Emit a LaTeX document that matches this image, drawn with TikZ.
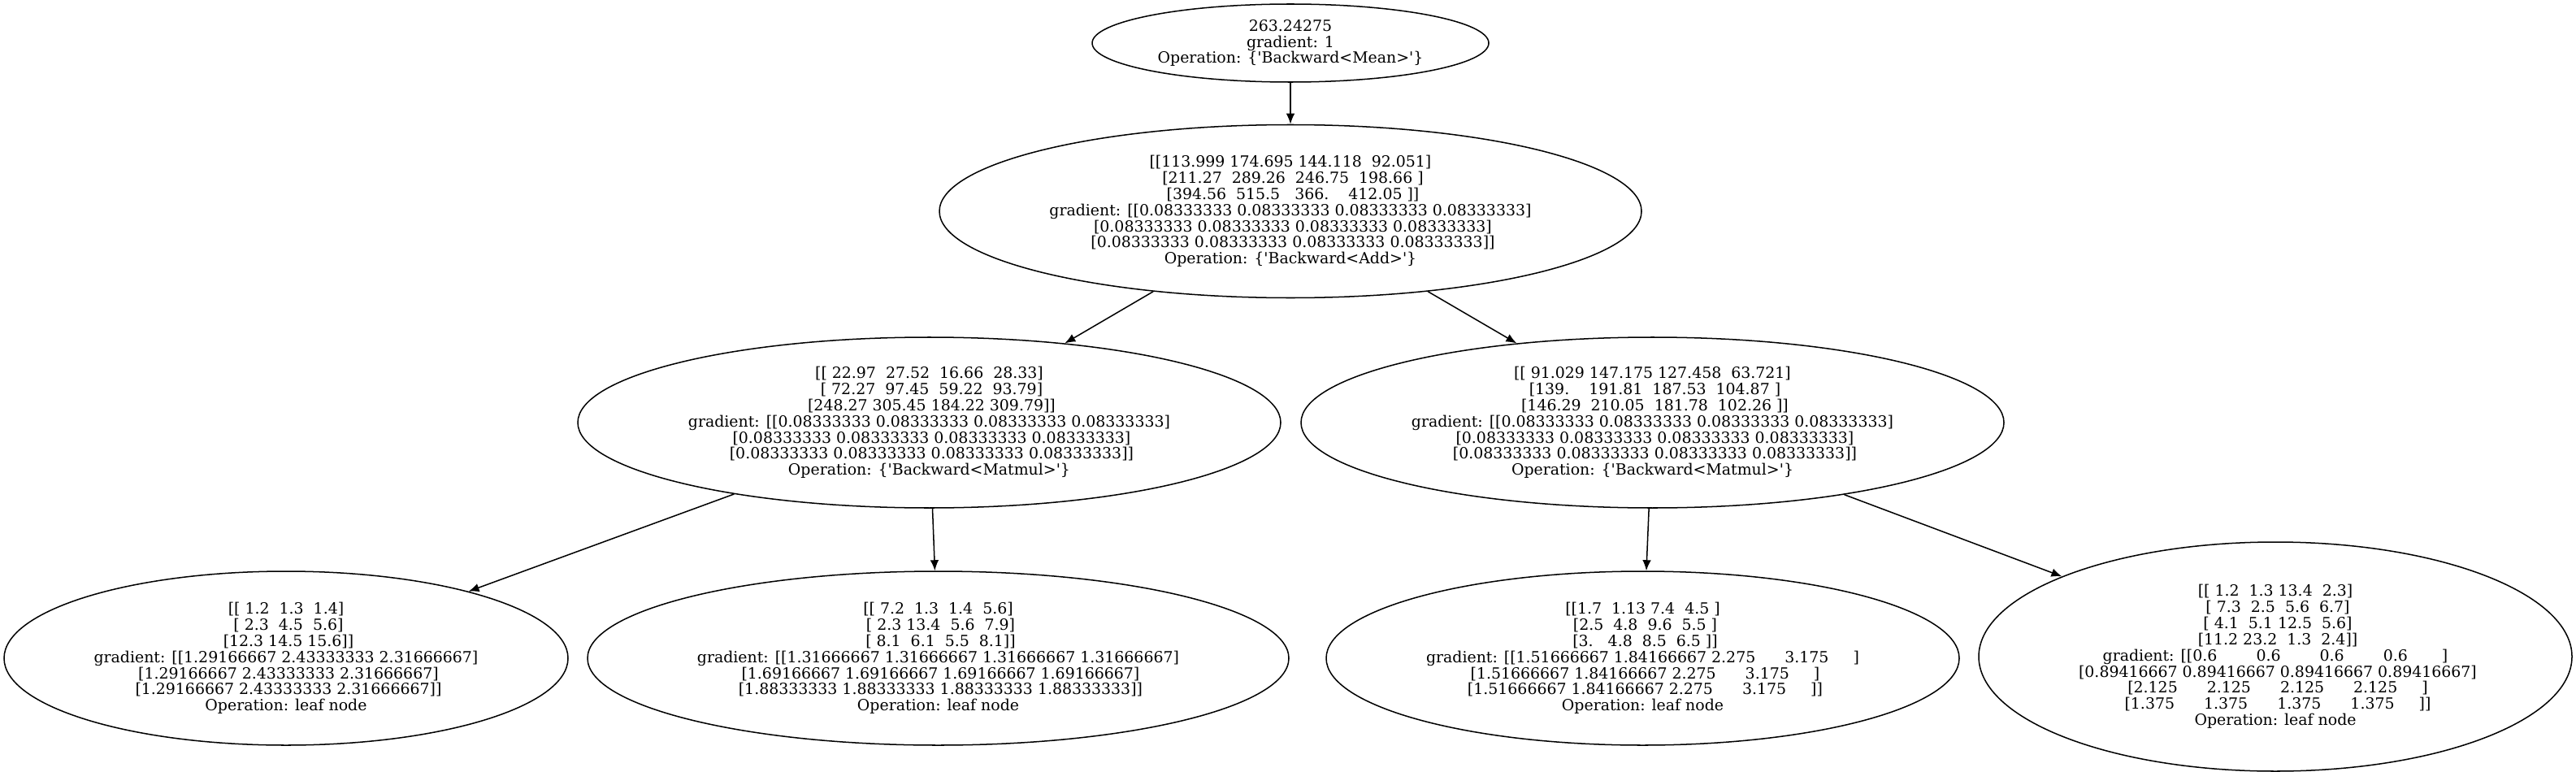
\documentclass[tikz,border=0pt]{standalone}
\usepackage{fontspec}
\setmainfont{DejaVu Serif}
\usepackage{tikz}
\usetikzlibrary{shapes, arrows.meta}
\tikzset{>={Latex[length=3.7pt,width=3pt]}}
\tikzset{
	tensor/.style={draw, ellipse, inner sep=0pt, align=center,
		line width=0.43pt, font=\fontsize{5.38}{5.65}\selectfont},
	grad/.style={->, line width=0.43pt}
}
\newcommand{\bwop}[1]{Operation: \{\textquotesingle Backward<#1>\textquotesingle\}}

\begin{document}
\begin{tikzpicture}
\useasboundingbox (0,0) rectangle (31.70,-9.50);
% forward result and add node
	\node[tensor, minimum width=4.88cm, minimum height=0.96cm] (mean) at (15.88,-0.53)
		{263.24275\\gradient: 1\\\bwop{Mean}};
	\node[tensor, minimum width=8.64cm, minimum height=2.13cm] (add) at (15.88,-2.60)
		{[[113.999 174.695 144.118~~92.051]\\
		~[211.27~~289.26~~246.75~~198.66~]\\
		~[394.56~~515.5~~~366.~~~~412.05~]]\\
		gradient: [[0.08333333 0.08333333 0.08333333 0.08333333]\\
		~[0.08333333 0.08333333 0.08333333 0.08333333]\\
		~[0.08333333 0.08333333 0.08333333 0.08333333]]\\
		\bwop{Add}};
% matmul nodes
	\node[tensor, minimum width=8.65cm, minimum height=2.10cm] (matL) at (11.435,-5.20)
		{[[~22.97~~27.52~~16.66~~28.33]\\
		~[~72.27~~97.45~~59.22~~93.79]\\
		~[248.27 305.45 184.22 309.79]]\\
		gradient: [[0.08333333 0.08333333 0.08333333 0.08333333]\\
		~[0.08333333 0.08333333 0.08333333 0.08333333]\\
		~[0.08333333 0.08333333 0.08333333 0.08333333]]\\
		\bwop{Matmul}};
	\node[tensor, minimum width=8.65cm, minimum height=2.10cm] (matR) at (20.335,-5.20)
		{[[~91.029 147.175 127.458~~63.721]\\
		~[139.~~~~191.81~~187.53~~104.87~]\\
		~[146.29~~210.05~~181.78~~102.26~]]\\
		gradient: [[0.08333333 0.08333333 0.08333333 0.08333333]\\
		~[0.08333333 0.08333333 0.08333333 0.08333333]\\
		~[0.08333333 0.08333333 0.08333333 0.08333333]]\\
		\bwop{Matmul}};
% leaf nodes
	\node[tensor, minimum width=6.94cm, minimum height=2.14cm] (leafA) at (3.52,-8.10)
		{[[~1.2~~1.3~~1.4]\\
		~[~2.3~~4.5~~5.6]\\
		~[12.3 14.5 15.6]]\\
		gradient: [[1.29166667 2.43333333 2.31666667]\\
		~[1.29166667 2.43333333 2.31666667]\\
		~[1.29166667 2.43333333 2.31666667]]\\
		Operation: leaf node};
	\node[tensor, minimum width=8.63cm, minimum height=2.14cm] (leafB) at (11.545,-8.10)
		{[[~7.2~~1.3~~1.4~~5.6]\\
		~[~2.3 13.4~~5.6~~7.9]\\
		~[~8.1~~6.1~~5.5~~8.1]]\\
		gradient: [[1.31666667 1.31666667 1.31666667 1.31666667]\\
		~[1.69166667 1.69166667 1.69166667 1.69166667]\\
		~[1.88333333 1.88333333 1.88333333 1.88333333]]\\
		Operation: leaf node};
	\node[tensor, minimum width=7.79cm, minimum height=2.14cm] (leafC) at (20.215,-8.10)
		{[[1.7~~1.13 7.4~~4.5~]\\
		~[2.5~~4.8~~9.6~~5.5~]\\
		~[3.~~~4.8~~8.5~~6.5~]]\\
		gradient: [[1.51666667 1.84166667 2.275~~~~~~3.175~~~~~]\\
		~[1.51666667 1.84166667 2.275~~~~~~3.175~~~~~]\\
		~[1.51666667 1.84166667 2.275~~~~~~3.175~~~~~]]\\
		Operation: leaf node};
	\node[tensor, minimum width=7.30cm, minimum height=2.82cm] (leafD) at (28.00,-8.08)
		{[[~1.2~~1.3 13.4~~2.3]\\
		~[~7.3~~2.5~~5.6~~6.7]\\
		~[~4.1~~5.1 12.5~~5.6]\\
		~[11.2 23.2~~1.3~~2.4]]\\
		gradient: [[0.6~~~~~~~~0.6~~~~~~~~0.6~~~~~~~~0.6~~~~~~~]\\
		~[0.89416667 0.89416667 0.89416667 0.89416667]\\
		~[2.125~~~~~~2.125~~~~~~2.125~~~~~~2.125~~~~~]\\
		~[1.375~~~~~~1.375~~~~~~1.375~~~~~~1.375~~~~~]]\\
		Operation: leaf node};

	\draw[grad] (mean) -- (add);
	\draw[grad] (add) -- (matL);
	\draw[grad] (add) -- (matR);
	\draw[grad] (matL) -- (leafA);
	\draw[grad] (matL) -- (leafB);
	\draw[grad] (matR) -- (leafC);
	\draw[grad] (matR) -- (leafD);
\end{tikzpicture}
\end{document}
